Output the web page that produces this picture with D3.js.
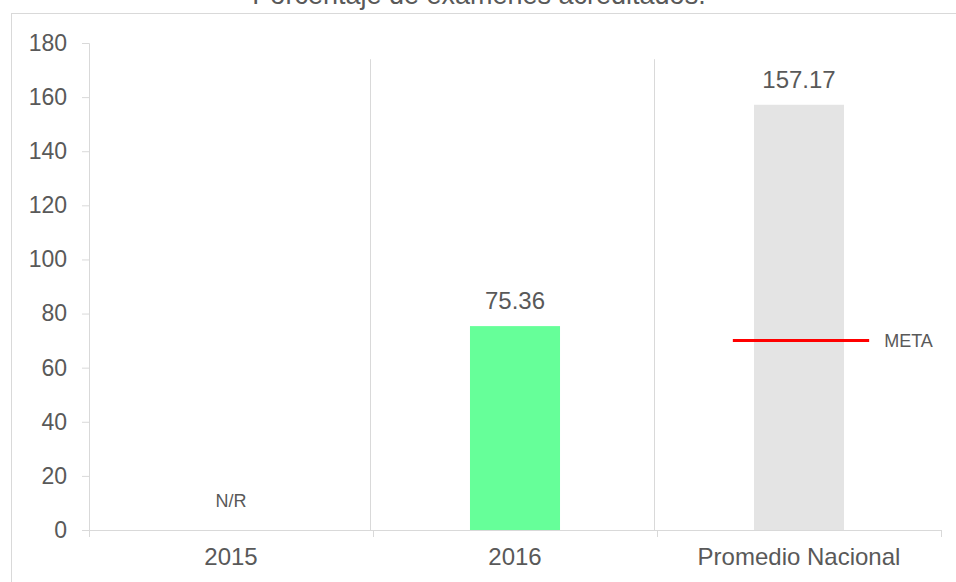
<!DOCTYPE html>
<html>
<head>
<meta charset="utf-8">
<script src="https://cdn.jsdelivr.net/npm/d3@7"></script>
<style>
  body { margin: 0; background: #fff; }
  svg { display: block; font-family: "Liberation Sans", Arial, sans-serif; }
</style>
</head>
<body>
<svg id="chart" width="956" height="582"></svg>
<script>
const title = 'Porcentaje de exámenes acreditados.';
const categories = ['2015', '2016', 'Promedio Nacional'];
const values = [null, 75.36, 157.17];
const barColors = ['#66ff99', '#66ff99', '#e4e4e4'];
const metaValue = 70;
const metaLabel = 'META';
const missingLabel = 'N/R';
const yTicks = [0, 20, 40, 60, 80, 100, 120, 140, 160, 180];

const svg = d3.select('#chart');
const margin = { top: 43, left: 89, right: 15, bottom: 52 };
const width = 956, height = 582;
const textColor = '#595959';
const lineColor = '#d9d9d9';

// outer frame, cut off on the right and bottom like the source
svg.append('rect')
  .attr('x', 11.5).attr('y', 13.5)
  .attr('width', 1000).attr('height', 1000)
  .attr('fill', 'none').attr('stroke', lineColor);

svg.append('text')
  .attr('x', 479).attr('y', 4)
  .attr('text-anchor', 'middle')
  .attr('fill', textColor)
  .attr('font-size', 27)
  .text(title);

const x = d3.scaleBand().domain(categories).range([margin.left, width - margin.right]);
const y = d3.scaleLinear().domain([0, 180]).range([height - margin.bottom, margin.top]);

// vertical gridlines between categories
svg.selectAll('line.grid')
  .data(categories.slice(1))
  .enter()
  .append('line')
  .attr('class', 'grid')
  .attr('x1', d => x(d) - 2.5).attr('x2', d => x(d) - 2.5)
  .attr('y1', y(174)).attr('y2', y(0))
  .attr('stroke', lineColor);

const yAxis = svg.append('g')
  .attr('transform', `translate(${margin.left},0)`)
  .call(d3.axisLeft(y).tickValues(yTicks).tickSize(7).tickSizeOuter(7).tickPadding(15));
yAxis.selectAll('path, line').attr('stroke', lineColor);
yAxis.selectAll('text').attr('fill', textColor).attr('font-size', 23).attr('font-family', null);

const xAxis = svg.append('g')
  .attr('transform', `translate(0,${y(0)})`)
  .call(d3.axisBottom(x).tickSize(0).tickSizeOuter(0).tickPadding(18));
xAxis.selectAll('path').attr('stroke', lineColor);
xAxis.selectAll('text').attr('fill', textColor).attr('font-size', 24).attr('font-family', null);

// category boundary ticks
const edges = categories.map(d => x(d)).concat([x.range()[1]]);
svg.selectAll('line.xtick')
  .data(edges)
  .enter()
  .append('line')
  .attr('class', 'xtick')
  .attr('x1', d => d + 0.5).attr('x2', d => d + 0.5)
  .attr('y1', y(0)).attr('y2', y(0) + 7)
  .attr('stroke', lineColor);

const barW = x.bandwidth() * 0.317;
const bars = categories.map((c, i) => ({ c, v: values[i], color: barColors[i] }));

svg.selectAll('rect.bar')
  .data(bars.filter(d => d.v != null))
  .enter()
  .append('rect')
  .attr('class', 'bar')
  .attr('x', d => x(d.c) + (x.bandwidth() - barW) / 2)
  .attr('width', barW)
  .attr('y', d => y(d.v))
  .attr('height', d => y(0) - y(d.v))
  .attr('fill', d => d.color);

svg.selectAll('text.val')
  .data(bars)
  .enter()
  .append('text')
  .attr('class', 'val')
  .attr('x', d => x(d.c) + x.bandwidth() / 2)
  .attr('y', d => d.v == null ? y(0) - 23 : y(d.v) - 17)
  .attr('text-anchor', 'middle')
  .attr('fill', textColor)
  .attr('font-size', d => d.v == null ? 18 : 24)
  .text(d => d.v == null ? missingLabel : d.v.toFixed(2));

// target line on the national average
const metaCat = categories[2];
const metaW = x.bandwidth() * 0.48;
const mx = x(metaCat) + x.bandwidth() / 2 + 2;
svg.append('line')
  .attr('x1', mx - metaW / 2).attr('x2', mx + metaW / 2)
  .attr('y1', y(metaValue)).attr('y2', y(metaValue))
  .attr('stroke', '#ff0000').attr('stroke-width', 3);
svg.append('text')
  .attr('x', mx + metaW / 2 + 15)
  .attr('y', y(metaValue))
  .attr('dy', '0.35em')
  .attr('fill', textColor)
  .attr('font-size', 18)
  .text(metaLabel);
</script>
</body>
</html>
